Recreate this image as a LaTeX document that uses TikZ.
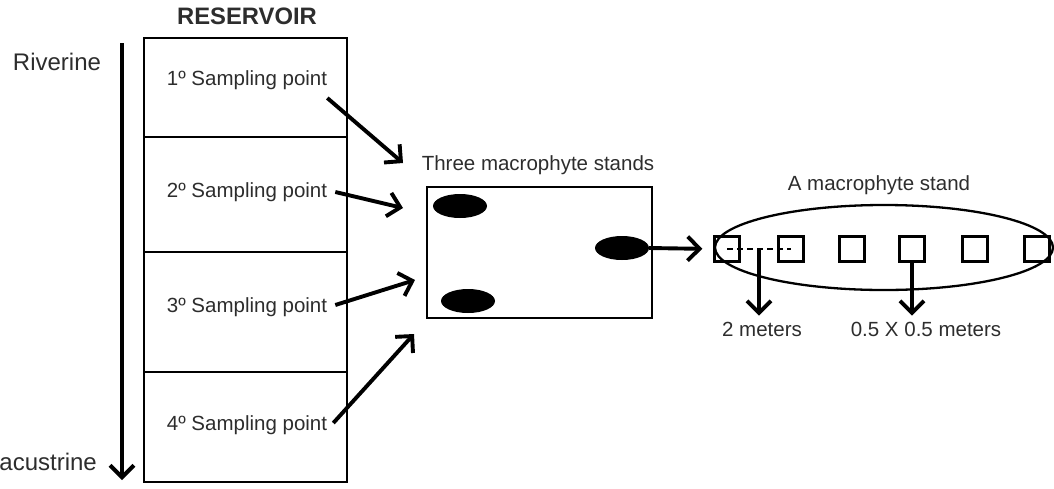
\documentclass[tikz,border=0pt]{standalone}
\usepackage{fontspec}
\setmainfont{Liberation Sans}
\usetikzlibrary{arrows.meta,calc,shapes.geometric,positioning}
\definecolor{inkgray}{RGB}{45,45,45}

\begin{document}
\begin{tikzpicture}[x=1pt,y=-1pt,>={Straight Barb[length=12pt,width=24pt]},
  frame/.style={line width=2.9pt},
  flow/.style={->,line width=3.9pt},
  lbl/.style={font=\fontsize{20.5}{24}\selectfont,text=inkgray,inner sep=0pt},
  side/.style={font=\fontsize{24}{28}\selectfont,text=inkgray,inner sep=0pt},
  blob/.style={ellipse,fill=black,minimum width=54pt,minimum height=24pt,inner sep=0pt},
  quad/.style={draw,line width=2.3pt,minimum size=25pt,inner sep=0pt}]

%% ── page ─────────────────────────────────────────────────────────────────────
\useasboundingbox (0,0) rectangle (1054,488);
\clip (0,0) rectangle (1054,488);

%% ════════════════════════════════════════════════════════════════════════════
%%  LEFT — the reservoir, riverine to lacustrine
%% ════════════════════════════════════════════════════════════════════════════
\node[side,font=\fontsize{23.8}{28}\selectfont\bfseries] (res) at (247,16) {RESERVOIR};

\draw[frame] (144,38) rectangle (347,482);
\foreach \y in {137,252,372}
  \draw[line width=2.5pt] (144,\y) -- (347,\y);

\node[side] (riv) at (57,62) {Riverine};
\node[side,anchor=east] (lac) at (97,462) {Lacustrine};

\coordinate (gradtop) at (122,43);
\coordinate (gradbot) at (122,480);
\draw[flow] (gradtop) -- (gradbot);

%% sampling points
\node[lbl] (s1) at (247,80) {1º Sampling point};
\node[lbl] (s2) at (247,192) {2º Sampling point};
\node[lbl] (s3) at (247,307) {3º Sampling point};
\node[lbl] (s4) at (247,425) {4º Sampling point};

%% ── arrows into the stands ───────────────────────────────────────────────────
\coordinate (t1) at (403,163);
\coordinate (t2) at (403,208);
\coordinate (t3) at (415,280);
\coordinate (t4) at (414,334);

\draw[flow] ([shift={(0,18)}]s1.east) -- (t1);
\draw[flow] ([xshift=8pt]s2.east) -- (t2);
\draw[flow] ([shift={(8,-2)}]s3.east) -- (t3);
\draw[flow] ([shift={(6,-2)}]s4.east) -- (t4);

%% ════════════════════════════════════════════════════════════════════════════
%%  MIDDLE — three macrophyte stands
%% ════════════════════════════════════════════════════════════════════════════
\node[draw,line width=2.3pt,minimum width=225pt,minimum height=131pt,inner sep=0pt]
  (stands) at (539.5,252.5) {};
\node[lbl] (standst) at (538,165) {Three macrophyte stands};

\node[blob] (m1) at (460,206) {};
\node[blob] (m2) at (622,248) {};
\node[blob] (m3) at (468,301) {};

%% ════════════════════════════════════════════════════════════════════════════
%%  RIGHT — one stand with its quadrats
%% ════════════════════════════════════════════════════════════════════════════
\node[draw,ellipse,line width=2.3pt,minimum width=338pt,minimum height=85pt,inner sep=0pt]
  (stand) at (884,247.5) {};
\node[lbl] (standt) at (879,185) {A macrophyte stand};

\foreach \i/\x in {1/727,2/791,3/852,4/912,5/975,6/1037}
  \node[quad] (q\i) at (\x,249) {};

\draw[flow,shorten >=11pt] (m2.east) -- (q1.west);

%% spacing between quadrats
\draw[line width=1.4pt,dash pattern=on 6pt off 4pt] (q1.center) -- (q2.center);
\coordinate (gap) at ($(q1.center)!0.5!(q2.center)$);

\node[lbl] (dim1) at (762,329) {2 meters};
\node[lbl] (dim2) at (926,329) {0.5 X 0.5 meters};

\draw[flow,shorten >=6pt] (gap) -- (gap |- dim1.north);
\draw[flow,shorten >=6pt] (q4.south) -- (q4.south |- dim2.north);

\end{tikzpicture}
\end{document}
